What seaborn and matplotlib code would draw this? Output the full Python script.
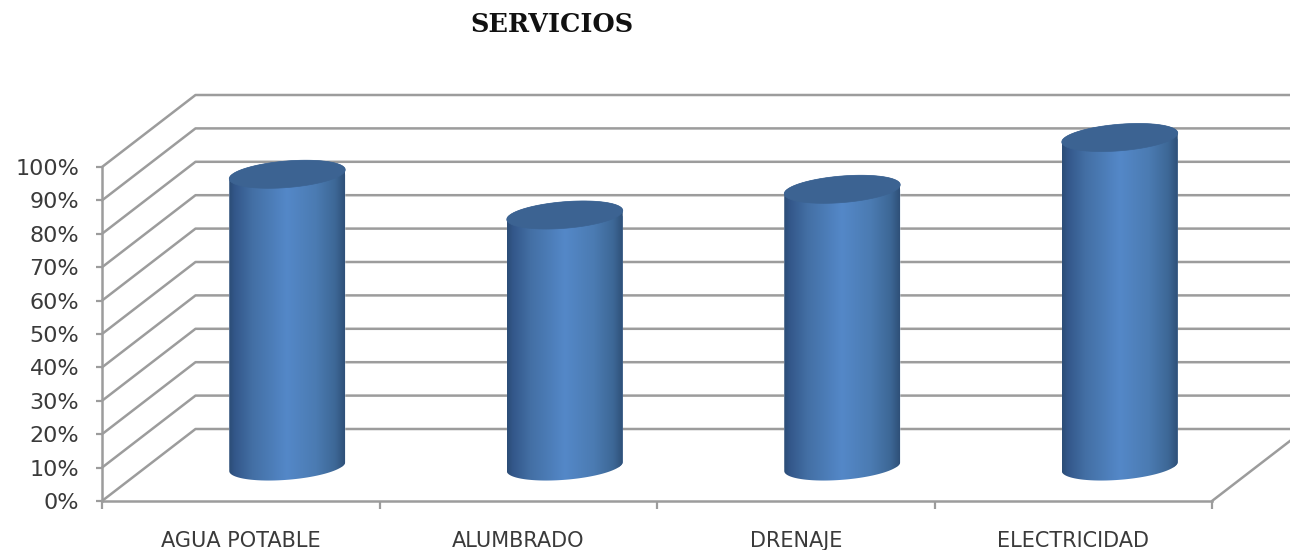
import numpy as np
import pandas as pd
import matplotlib
matplotlib.use("Agg")
import matplotlib.pyplot as plt
from matplotlib.colors import LinearSegmentedColormap
from matplotlib.path import Path
from matplotlib.patches import PathPatch
import seaborn as sns

categories = ["AGUA POTABLE", "ALUMBRADO", "DRENAJE", "ELECTRICIDAD"]
values = [87.5, 75.3, 83.0, 98.5]
y_ticks = [0, 10, 20, 30, 40, 50, 60, 70, 80, 90, 100]
title = "SERVICIOS"

W, H = 1290, 550
LEFT, RIGHT, FLOOR, TOP = 102, 1212, 501, 167
GRID = "#9c9c9c"
TEXT = "#3a3a3a"

sns.set_theme(style="white")
plt.rcParams["font.family"] = ["DejaVu Sans"]

fig = plt.figure(figsize=(W / 100, H / 100), dpi=100, facecolor="white")
ax = fig.add_axes([LEFT / W, (H - FLOOR) / H, (RIGHT - LEFT) / W, (FLOOR - TOP) / H])

df = pd.DataFrame({"servicio": categories, "valor": values})
sns.barplot(data=df, x="servicio", y="valor", ax=ax, color="#4a78ae", saturation=1,
            width=0.418, errorbar=None, zorder=3)

xlim = (-0.5, 3.5)
ylim = (0, 100)
px_x = (RIGHT - LEFT) / (xlim[1] - xlim[0])
px_y = (FLOOR - TOP) / (ylim[1] - ylim[0])

# oblique projection depth of the 3D box
depth_x = 93.5 / px_x
depth_y = 72 / px_y
# bars stand half way in the depth of the box
bar_dx = 46.5 / px_x
bar_dy = 34.5 / px_y
# ellipse of the cylinder ends
tilt = 4.5 / px_y
minor = 13.3 / px_y

# walls and gridlines
line_kw = dict(color=GRID, lw=1.8, zorder=1, clip_on=False, solid_capstyle="round")
for t in y_ticks:
    ax.plot([xlim[0], xlim[0] + depth_x, xlim[1] + depth_x],
            [t, t + depth_y, t + depth_y], **line_kw)
ax.plot([xlim[1], xlim[1] + depth_x], [0, depth_y], **line_kw)

cmap = LinearSegmentedColormap.from_list(
    "cyl", [(0.0, "#2c4d76"), (0.05, "#33578a"), (0.2, "#436fa4"), (0.5, "#5488c8"),
            (0.75, "#4b7bb2"), (0.92, "#3d6796"), (1.0, "#2f5078")])
gradient = np.linspace(0, 1, 256).reshape(1, -1)


def ell(cx, cy, a, t):
    return cx + a * np.cos(t), cy + tilt * np.cos(t) + minor * np.sin(t)


for patch in ax.patches:
    cx = patch.get_x() + patch.get_width() / 2 + bar_dx
    a = patch.get_width() / 2
    h = patch.get_height()
    patch.set_x(cx - a)
    patch.set_y(bar_dy)
    y0, y1 = bar_dy, bar_dy + h
    bx, by = ell(cx, y0, a, np.linspace(np.pi, 2 * np.pi, 80))
    tx, ty = ell(cx, y1, a, np.linspace(0, np.pi, 80))
    verts = np.column_stack([np.r_[bx, tx], np.r_[by, ty]])
    outline = Path(np.vstack([verts, verts[0]]), closed=True)
    clip = PathPatch(outline, transform=ax.transData, fc="none", ec="none", clip_on=False)
    ax.add_patch(clip)
    patch.set_clip_box(fig.bbox)
    patch.set_clip_path(clip)
    im = ax.imshow(gradient, extent=[cx - a, cx + a, y0 - 2 * minor, y1 + 2 * minor],
                   cmap=cmap, aspect="auto", zorder=3.1, interpolation="bilinear")
    im.set_clip_box(fig.bbox)
    im.set_clip_path(clip)
    ex, ey = ell(cx, y1, a, np.linspace(0, 2 * np.pi, 160))
    ax.fill(ex, ey, fc="#3c6392", ec="#3c6392", lw=0.5, zorder=3.2, clip_on=False)

ax.set_xlim(*xlim)
ax.set_ylim(*ylim)
ax.set_xlabel("")
ax.set_ylabel("")

# axes
for side in ("top", "right"):
    ax.spines[side].set_visible(False)
for side in ("left", "bottom"):
    ax.spines[side].set_color(GRID)
    ax.spines[side].set_linewidth(1.8)

ax.set_yticks(y_ticks)
ax.set_yticklabels([f"{t}%" for t in y_ticks])
ax.tick_params(axis="y", left=True, length=4.5, width=1.6, color=GRID, pad=12,
               labelsize=16, labelcolor=TEXT)
ax.set_xticks(range(len(categories)))
ax.set_xticklabels(categories)
ax.tick_params(axis="x", bottom=False, length=0, pad=21.5, labelsize=15, labelcolor=TEXT)
ax.set_xticks(np.arange(xlim[0], xlim[1] + 0.5), minor=True)
ax.tick_params(axis="x", which="minor", bottom=True, length=6, width=1.6, color=GRID)

fig.text(552 / W, 1 - 24 / H, title, ha="center", va="center", fontsize=18.4,
         fontweight="bold", family="DejaVu Serif", color="#111111")

fig.savefig("out.png", dpi=100, facecolor="white")
